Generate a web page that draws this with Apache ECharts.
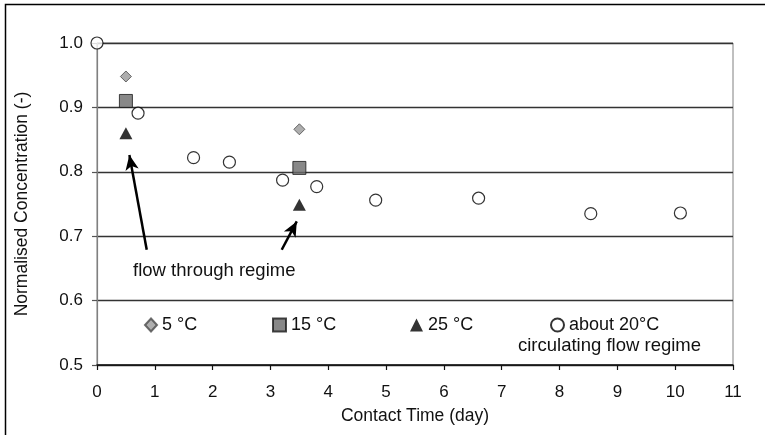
<!DOCTYPE html>
<html>
<head>
<meta charset="utf-8">
<script src="https://cdn.jsdelivr.net/npm/echarts@6/dist/echarts.min.js"></script>
<style>
  html, body { margin: 0; padding: 0; background: #fff; }
  #chart { width: 765px; height: 435px; }
</style>
</head>
<body>
<div id="chart"></div>
<script>
// Flow-through runs at three temperatures (contact time in days, normalised concentration)
const t5 = [0.5, 3.5];
const c5 = [0.948, 0.866];
const t15 = [0.5, 3.5];
const c15 = [0.910, 0.806];
const t25 = [0.5, 3.5];
const c25 = [0.860, 0.749];

// Circulating flow regime at about 20 °C
const t20 = [0, 0.71, 1.67, 2.29, 3.21, 3.80, 4.82, 6.60, 8.54, 10.09];
const c20 = [1.000, 0.891, 0.822, 0.815, 0.787, 0.777, 0.756, 0.759, 0.735, 0.736];

// Axis ticks
const xTicks = [0, 1, 2, 3, 4, 5, 6, 7, 8, 9, 10, 11];
const yTicks = [0.5, 0.6, 0.7, 0.8, 0.9, 1.0];

// Annotation arrows (from label towards the flow-through points), in data units
const arrowFrom = [[0.86, 0.679], [3.195, 0.679]];
const arrowTo = [[0.56, 0.826], [3.455, 0.723]];

const FONT = '"Liberation Sans", Arial, sans-serif';
const pairs = (xs, ys) => xs.map((x, i) => [x, ys[i]]);

const chart = echarts.init(document.getElementById('chart'), null, { renderer: 'canvas' });

const legendBase = {
  orient: 'horizontal',
  top: 311,
  itemHeight: 13,
  textStyle: { fontFamily: FONT, fontSize: 18, color: '#111' },
  selectedMode: false
};

chart.setOption({
  animation: false,
  backgroundColor: '#fff',
  grid: {
    left: 97, right: 32, top: 43, bottom: 70,
    show: true, borderColor: '#808080', borderWidth: 1
  },
  xAxis: {
    type: 'value',
    min: xTicks[0],
    max: xTicks[xTicks.length - 1],
    interval: xTicks[1] - xTicks[0],
    name: 'Contact Time (day)',
    nameLocation: 'middle',
    nameGap: 42,
    nameTextStyle: { fontFamily: FONT, fontSize: 17.5, color: '#111' },
    axisLine: { lineStyle: { color: '#111', width: 1.5 } },
    axisTick: { show: true, inside: false, length: 5, lineStyle: { color: '#111', width: 1.2 } },
    axisLabel: { margin: 19, fontFamily: FONT, fontSize: 17, color: '#111' },
    splitLine: { show: false }
  },
  yAxis: {
    type: 'value',
    min: yTicks[0],
    max: yTicks[yTicks.length - 1],
    interval: 0.1,
    name: 'Normalised Concentration (-)',
    nameLocation: 'middle',
    nameGap: 66,
    nameRotate: 90,
    nameTextStyle: { fontFamily: FONT, fontSize: 17.5, color: '#111' },
    axisLine: { show: true, lineStyle: { color: '#808080', width: 1.2 } },
    axisTick: { show: true, inside: false, length: 5, lineStyle: { color: '#555', width: 1.2 } },
    axisLabel: {
      margin: 14, fontFamily: FONT, fontSize: 17, color: '#111',
      formatter: v => v.toFixed(1)
    },
    splitLine: { show: true, lineStyle: { color: '#333', width: 1.4 } }
  },
  legend: [
    Object.assign({}, legendBase, { left: 139, itemWidth: 12, data: ['5 °C'] }),
    Object.assign({}, legendBase, { left: 267, itemWidth: 13, data: ['15 °C'] }),
    Object.assign({}, legendBase, { left: 405, itemWidth: 13, data: ['25 °C'] }),
    Object.assign({}, legendBase, { left: 545, itemWidth: 13, data: ['about 20°C'] })
  ],
  graphic: [
    {
      type: 'rect',
      silent: true,
      shape: { x: 5.5, y: 4.5, width: 820, height: 500 },
      style: { fill: 'none', stroke: '#000', lineWidth: 1.5 }
    },
    {
      type: 'text',
      left: 133, top: 261,
      silent: true,
      style: { text: 'flow through regime', fontFamily: FONT, fontSize: 18.5, fill: '#111' }
    },
    {
      type: 'text',
      left: 518, top: 336,
      silent: true,
      style: { text: 'circulating flow regime', fontFamily: FONT, fontSize: 18.5, fill: '#111' }
    }
  ],
  series: [
    {
      name: '5 °C',
      type: 'scatter',
      symbol: 'diamond',
      symbolSize: 11,
      itemStyle: { color: '#9a9a9a', borderColor: '#4a4a4a', borderWidth: 1 },
      data: pairs(t5, c5),
      z: 3
    },
    {
      name: '15 °C',
      type: 'scatter',
      symbol: 'rect',
      symbolSize: 13,
      itemStyle: { color: '#6a6a6a', borderColor: '#1a1a1a', borderWidth: 1 },
      data: pairs(t15, c15),
      z: 3
    },
    {
      name: '25 °C',
      type: 'scatter',
      symbol: 'triangle',
      symbolSize: [13, 12],
      itemStyle: { color: '#000', borderColor: '#000', borderWidth: 0 },
      data: pairs(t25, c25),
      z: 3,
      markLine: {
        silent: true,
        symbol: ['none', 'arrow'],
        symbolSize: [10, 15],
        label: { show: false },
        lineStyle: { color: '#000', width: 2.5, type: 'solid' },
        data: arrowFrom.map((p, i) => [{ coord: p }, { coord: arrowTo[i] }])
      }
    },
    {
      name: 'about 20°C',
      type: 'scatter',
      symbol: 'circle',
      symbolSize: 12,
      itemStyle: { color: '#fff', borderColor: '#000', borderWidth: 1.2 },
      data: pairs(t20, c20),
      z: 4
    }
  ]
});
</script>
</body>
</html>
